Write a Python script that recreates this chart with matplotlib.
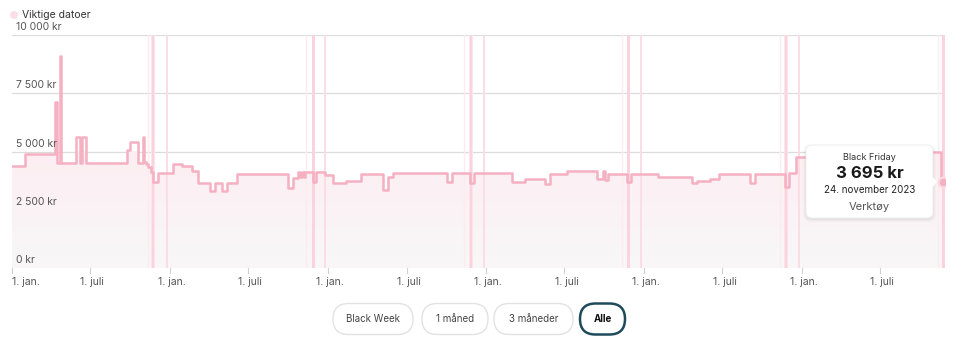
import numpy as np
import matplotlib
matplotlib.use("Agg")
import matplotlib.pyplot as plt
import matplotlib.dates as mdates
from matplotlib.patches import FancyBboxPatch, Circle, Polygon

plt.rcParams["font.family"] = ["Inter", "DejaVu Sans"]

# ------------------------------------------------------------
# data
# ------------------------------------------------------------
price_dates = [
    "2018-01-01", "2018-01-31", "2018-04-11", "2018-04-15", "2018-04-23",
    "2018-04-25", "2018-05-28", "2018-06-08", "2018-06-12", "2018-06-22",
    "2018-09-23", "2018-09-30", "2018-10-19", "2018-10-31", "2018-11-02",
    "2018-11-06", "2018-11-11", "2018-11-18", "2018-11-23", "2018-12-04",
    "2019-01-08", "2019-01-29", "2019-02-21", "2019-03-07", "2019-04-04",
    "2019-04-15", "2019-05-01", "2019-05-13", "2019-06-05", "2019-10-01",
    "2019-10-13", "2019-10-24", "2019-10-29", "2019-11-02", "2019-11-07",
    "2019-11-09", "2019-11-27", "2019-12-05", "2019-12-25", "2020-01-13",
    "2020-02-12", "2020-03-18", "2020-05-08", "2020-05-19", "2020-05-31",
    "2020-06-16", "2020-10-03", "2020-10-14", "2020-11-25", "2020-12-04",
    "2021-03-02", "2021-04-01", "2021-05-17", "2021-05-29", "2021-07-07",
    "2021-09-14", "2021-09-28", "2021-10-03", "2021-10-10", "2021-11-23",
    "2021-12-02", "2022-02-02", "2022-04-22", "2022-05-03", "2022-06-02",
    "2022-06-23", "2022-09-03", "2022-09-15", "2022-11-22", "2022-12-02",
    "2022-12-18", "2023-06-07", "2023-11-19", "2023-11-24",
]
price_values = [
    4390, 4890, 7140, 4490, 9110,
    4490, 5640, 4490, 5640, 4490,
    5060, 5420, 4490, 5640, 4550,
    4450, 4320, 4130, 3700, 4090,
    4460, 4380, 4180, 3630, 3300,
    3630, 3300, 3630, 4020, 3420,
    3870, 4130, 3900, 4130, 3900,
    4130, 3700, 4130, 3990, 3630,
    3750, 4020, 3350, 3920, 4060,
    4090, 3700, 4060, 3630, 4060,
    3700, 3810, 3590, 4030, 4180,
    3810, 4180, 3780, 4020, 3700,
    4020, 3920, 3630, 3750, 3820,
    4020, 3630, 4020, 3460, 4060,
    4780, 4990, 3695, 3695,
]

singles_days = ["2018-11-11", "2019-11-11", "2020-11-11", "2021-11-11", "2022-11-11", "2023-11-11"]
black_fridays = ["2018-11-23", "2019-11-29", "2020-11-27", "2021-11-26", "2022-11-25", "2023-11-24"]
boxing_days = ["2018-12-26", "2019-12-26", "2020-12-26", "2021-12-26", "2022-12-26"]

y_ticks = [0, 2500, 5000, 7500, 10000]
y_tick_labels = ["0 kr", "2 500 kr", "5 000 kr", "7 500 kr", "10 000 kr"]
x_tick_dates = ["2018-01-01", "2018-07-01", "2019-01-01", "2019-07-01", "2020-01-01",
                "2020-07-01", "2021-01-01", "2021-07-01", "2022-01-01", "2022-07-01",
                "2023-01-01", "2023-07-01"]
x_tick_labels = ["1. jan.", "1. juli"] * 6

buttons = ["Black Week", "1 måned", "3 måneder", "Alle"]

tooltip_title = "Black Friday"
tooltip_price = "3 695 kr"
tooltip_date = "24. november 2023"
tooltip_category = "Verktøy"

LINE = "#f5b0c1"


def to_num(dates):
    return mdates.date2num(np.array(dates, dtype="datetime64[D]"))


x = to_num(price_dates)
y = np.array(price_values, dtype=float)

# ------------------------------------------------------------
# figure
# ------------------------------------------------------------
W, H = 960, 360
fig = plt.figure(figsize=(W / 100, H / 100), dpi=100)
fig.patch.set_facecolor("white")

ax_left, ax_right, ax_top, ax_bot = 12, 945, 35, 268
ax = fig.add_axes([ax_left / W, (H - ax_bot) / H, (ax_right - ax_left) / W, (ax_bot - ax_top) / H])

x0 = to_num(["2018-01-01"])[0]
px_per_day = (802 - 12) / (to_num(["2023-01-01"])[0] - x0)
x1 = x0 + (ax_right - ax_left) / px_per_day
ax.set_xlim(x0, x1)
ax.set_ylim(0, 10000)
for s in ax.spines.values():
    s.set_visible(False)
ax.set_xticks([])
ax.set_yticks([])

# gridlines
for v in y_ticks:
    ax.axhline(v, color="#dcdcdc", lw=0.9, zorder=1)

# important dates
for d in to_num(singles_days):
    ax.axvline(d, color="#fdebf0", lw=1.0, zorder=2)
for d in to_num(black_fridays):
    ax.axvspan(d - 4, d + 4, color="#fde4ea", lw=0, zorder=2)
    ax.axvspan(d - 2.5, d + 2.5, color="#fbd3dd", lw=0, zorder=2)
for d in to_num(boxing_days):
    ax.axvline(d, color="#fcdde5", lw=1.4, zorder=2)

# gradient fill under price line
fill = ax.fill_between(x, y, 0, step="post", color="none", lw=0)
grad = np.linspace(0, 1, 256).reshape(-1, 1)
cmap = matplotlib.colors.LinearSegmentedColormap.from_list("g", ["#f8f7f8", "#fdeef2"])
im = ax.imshow(grad, extent=[x0, x1, 0, 5000], origin="lower", aspect="auto",
               cmap=cmap, zorder=1.5)
im.set_clip_path(fill.get_paths()[0], transform=ax.transData)
ax.set_xlim(x0, x1)
ax.set_ylim(0, 10000)

ax.step(x, y, where="post", color=LINE, lw=1.8, zorder=3)

# end marker
ax.scatter([x[-1]], [y[-1]], s=75, color="#fbdbe3", zorder=4, lw=0)
ax.scatter([x[-1]], [y[-1]], s=30, color=LINE, zorder=5, lw=0)

# y labels inside the axes
for v, lab in zip(y_ticks, y_tick_labels):
    ax.annotate(lab, (0, v), xycoords=("axes fraction", "data"), xytext=(3, 2),
                textcoords="offset points", ha="left", va="bottom",
                fontsize=7.5, color="#555555")

# x ticks below
for i, (d, lab) in enumerate(zip(to_num(x_tick_dates), x_tick_labels)):
    ax.plot([d, d], [0, -0.022], transform=ax.get_xaxis_transform(), color="#cfcfcf",
            lw=0.8, clip_on=False)
    ax.annotate(lab, (d, 0), xycoords=("data", "axes fraction"), xytext=(0 if i == 0 else 1.5, -6.5),
                textcoords="offset points", ha="left" if i == 0 else "center", va="top",
                fontsize=7.5, color="#555555", annotation_clip=False)

# ------------------------------------------------------------
# overlay in pixel coordinates: legend, tooltip, buttons
# ------------------------------------------------------------
ui = fig.add_axes([0, 0, 1, 1], zorder=10)
ui.set_xlim(0, W)
ui.set_ylim(H, 0)
ui.axis("off")
ui.patch.set_alpha(0)

# legend
ui.add_patch(Circle((14, 15), 4, color="#fbdde5", lw=0))
ui.text(22, 15.5, "Viktige datoer", fontsize=7.5, color="#333333", va="center", ha="left")

# tooltip
tx0, ty0, tw, th = 806, 145, 127, 73
for k, a in enumerate([0.035, 0.025, 0.015]):
    ui.add_patch(FancyBboxPatch((tx0 - k - 1, ty0 - k + 1), tw + 2 * k + 2, th + 2 * k + 1,
                                boxstyle="round,pad=0,rounding_size=7", fc="#000000",
                                alpha=a, lw=0))
ui.add_patch(FancyBboxPatch((tx0, ty0), tw, th, boxstyle="round,pad=0,rounding_size=6",
                            fc="white", ec="#eeeeee", lw=0.6))
ui.add_patch(Polygon([(tx0 + tw - 0.5, 177), (tx0 + tw + 4, 182), (tx0 + tw - 0.5, 187)],
                     closed=True, fc="white", ec="none"))
cx = tx0 + tw / 2
ui.text(cx, 157, tooltip_title, fontsize=6.5, color="#333333", ha="center", va="center")
ui.text(cx, 173.5, tooltip_price, fontsize=12, fontweight="bold", color="#1a1a1a",
        ha="center", va="center")
ui.text(cx, 190, tooltip_date, fontsize=7, color="#222222", ha="center", va="center")
ui.text(cx, 207, tooltip_category, fontsize=8, color="#555555", ha="center", va="center")

# range buttons
btn_x = [333, 422, 494, 580]
btn_w = [80, 66, 79, 45]
by, bh = 303.5, 31
for i, lab in enumerate(buttons):
    active = lab == "Alle"
    ui.add_patch(FancyBboxPatch((btn_x[i], by), btn_w[i], bh,
                                boxstyle=f"round,pad=0,rounding_size={bh / 2}",
                                fc="white", ec="#1e4a5b" if active else "#e2e2e2",
                                lw=1.8 if active else 1.0))
    ui.text(btn_x[i] + btn_w[i] / 2, by + bh / 2 + 0.5, lab, fontsize=7,
            color="#111111" if active else "#444444",
            fontweight="bold" if active else "normal", ha="center", va="center")

fig.savefig("out.png", dpi=100)
